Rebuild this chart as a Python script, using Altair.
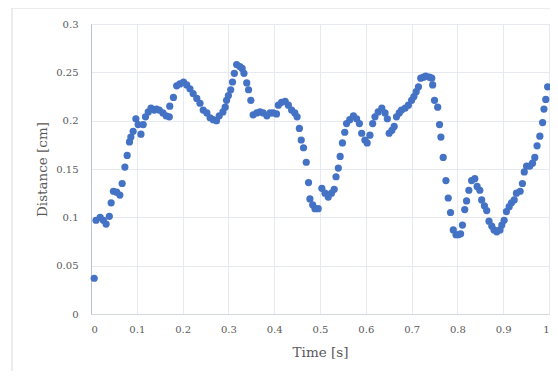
import altair as alt
import pandas as pd

time_s = [
    0.007, 0.011, 0.020, 0.027, 0.033, 0.040, 0.044, 0.049, 0.056, 0.063,
    0.068, 0.074, 0.079, 0.084, 0.087, 0.092, 0.098, 0.103, 0.109, 0.114,
    0.119, 0.125, 0.131, 0.138, 0.143, 0.149, 0.157, 0.164, 0.171, 0.172,
    0.180, 0.187, 0.194, 0.202, 0.209, 0.216, 0.223, 0.231, 0.238, 0.245,
    0.253, 0.260, 0.267, 0.274, 0.280, 0.288, 0.293, 0.296, 0.300, 0.305,
    0.309, 0.313, 0.318, 0.325, 0.330, 0.334, 0.340, 0.344, 0.349, 0.354,
    0.362, 0.369, 0.376, 0.384, 0.391, 0.398, 0.405, 0.409, 0.416, 0.424,
    0.431, 0.438, 0.445, 0.450, 0.455, 0.459, 0.464, 0.470, 0.475, 0.478,
    0.484, 0.489, 0.496, 0.504, 0.511, 0.518, 0.525, 0.531, 0.535, 0.540,
    0.544, 0.549, 0.554, 0.558, 0.565, 0.573, 0.580, 0.586, 0.591, 0.598,
    0.603, 0.609, 0.615, 0.620, 0.627, 0.635, 0.642, 0.647, 0.651, 0.657,
    0.662, 0.667, 0.673, 0.678, 0.686, 0.693, 0.700, 0.705, 0.710, 0.715,
    0.720, 0.726, 0.731, 0.739, 0.744, 0.746, 0.750, 0.757, 0.761, 0.764,
    0.769, 0.775, 0.780, 0.785, 0.791, 0.797, 0.802, 0.807, 0.811, 0.816,
    0.820, 0.825, 0.831, 0.838, 0.843, 0.849, 0.853, 0.859, 0.864, 0.869,
    0.875, 0.880, 0.886, 0.893, 0.897, 0.902, 0.907, 0.913, 0.918, 0.924,
    0.929, 0.937, 0.942, 0.946, 0.951, 0.958, 0.964, 0.969, 0.974, 0.980,
    0.986, 0.989, 0.993, 0.997,
]
distance_cm = [
    0.037, 0.097, 0.100, 0.097, 0.093, 0.101, 0.115, 0.127, 0.126, 0.123,
    0.135, 0.152, 0.164, 0.178, 0.183, 0.189, 0.202, 0.196, 0.186, 0.196,
    0.204, 0.209, 0.213, 0.211, 0.212, 0.211, 0.208, 0.205, 0.204, 0.215,
    0.224, 0.236, 0.238, 0.240, 0.237, 0.233, 0.228, 0.223, 0.218, 0.211,
    0.208, 0.203, 0.201, 0.200, 0.205, 0.209, 0.214, 0.221, 0.226, 0.232,
    0.240, 0.249, 0.258, 0.256, 0.254, 0.249, 0.239, 0.232, 0.221, 0.206,
    0.208, 0.209, 0.208, 0.205, 0.208, 0.208, 0.207, 0.216, 0.219, 0.220,
    0.216, 0.211, 0.208, 0.204, 0.192, 0.180, 0.172, 0.157, 0.136, 0.119,
    0.113, 0.109, 0.109, 0.130, 0.125, 0.121, 0.125, 0.129, 0.142, 0.151,
    0.163, 0.177, 0.188, 0.197, 0.201, 0.205, 0.202, 0.197, 0.187, 0.180,
    0.177, 0.185, 0.197, 0.204, 0.209, 0.213, 0.208, 0.202, 0.187, 0.190,
    0.194, 0.204, 0.208, 0.211, 0.213, 0.216, 0.221, 0.225, 0.230, 0.235,
    0.244, 0.245, 0.246, 0.245, 0.244, 0.237, 0.221, 0.214, 0.196, 0.183,
    0.162, 0.138, 0.120, 0.105, 0.087, 0.082, 0.082, 0.083, 0.092, 0.108,
    0.117, 0.128, 0.138, 0.140, 0.132, 0.128, 0.118, 0.112, 0.107, 0.096,
    0.091, 0.087, 0.085, 0.087, 0.092, 0.097, 0.106, 0.111, 0.115, 0.118,
    0.125, 0.127, 0.135, 0.147, 0.153, 0.153, 0.156, 0.162, 0.174, 0.184,
    0.198, 0.212, 0.222, 0.235,
]

x_ticks = [0, 0.1, 0.2, 0.3, 0.4, 0.5, 0.6, 0.7, 0.8, 0.9, 1]
y_ticks = [0, 0.05, 0.1, 0.15, 0.2, 0.25, 0.3]

df = pd.DataFrame({"t": time_s, "d": distance_cm})

FONT = "DejaVu Serif"
TXT = "#595959"

frame = alt.Chart(pd.DataFrame({"a": [0]})).mark_rect(
    filled=False, stroke="#D9D9D9", strokeWidth=1, clip=False
).encode(
    x=alt.value(-79), x2=alt.value(490), y=alt.value(-16), y2=alt.value(400)
)

points = alt.Chart(df).mark_circle(size=52, color="#4472C4", opacity=1).encode(
    x=alt.X(
        "t:Q",
        title="Time [s]",
        scale=alt.Scale(domain=[0, 1], nice=False, zero=False),
        axis=alt.Axis(
            values=x_ticks,
            format="~g",
            grid=True,
            gridColor="#E6E9EF",
            domainColor="#D4D8E0",
            ticks=False,
            labelPadding=10,
            labelFont=FONT,
            labelFontSize=10,
            labelColor=TXT,
            titleFont=FONT,
            titleFontSize=13.5,
            titleFontWeight="normal",
            titleColor=TXT,
            titlePadding=11,
        ),
    ),
    y=alt.Y(
        "d:Q",
        title="Distance [cm]",
        scale=alt.Scale(domain=[0, 0.3], nice=False),
        axis=alt.Axis(
            values=y_ticks,
            format="~g",
            grid=True,
            gridColor="#E6E9EF",
            domainColor="#B8C1CF",
            ticks=False,
            labelPadding=13,
            labelFont=FONT,
            labelFontSize=10,
            labelColor=TXT,
            titleFont=FONT,
            titleFontSize=13.5,
            titleFontWeight="normal",
            titleColor=TXT,
            titlePadding=6,
        ),
    ),
)

chart = alt.layer(frame, points).properties(
    width=458,
    height=290,
    autosize=alt.AutoSizeParams(type="none"),
    padding={"left": 83, "top": 16, "right": 1, "bottom": 57},
).configure_view(stroke=None).configure(background="white")

chart.save("out.html", embed_options={"renderer": "svg", "actions": False})
